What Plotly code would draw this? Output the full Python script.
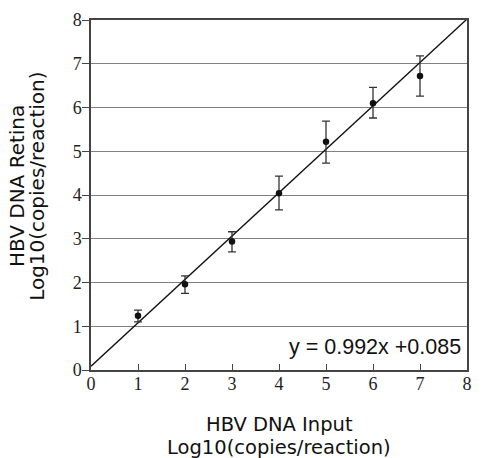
import plotly.graph_objects as go

x_input = [1, 2, 3, 4, 5, 6, 7]
y_retina = [1.24, 1.96, 2.94, 4.04, 5.22, 6.10, 6.72]
err_plus = [0.13, 0.19, 0.22, 0.39, 0.47, 0.36, 0.46]
err_minus = [0.14, 0.21, 0.24, 0.38, 0.49, 0.34, 0.46]
slope = 0.992
intercept = 0.085
fit_x = [0, 8]
fit_y = [slope * v + intercept for v in fit_x]
tick_vals = [0, 1, 2, 3, 4, 5, 6, 7, 8]

SERIF = "Liberation Serif, Times New Roman, serif"
SANS = "DejaVu Sans, Verdana, sans-serif"
ARIAL = "Liberation Sans, Arial, sans-serif"

fig = go.Figure()
fig.add_trace(go.Scatter(x=fit_x, y=fit_y, mode="lines",
                         line=dict(color="#111111", width=1.4), showlegend=False, cliponaxis=False))
fig.add_trace(go.Scatter(
    x=x_input, y=y_retina, mode="markers",
    marker=dict(color="#111111", size=6.5),
    error_y=dict(type="data", symmetric=False, array=err_plus, arrayminus=err_minus,
                 color="#333333", thickness=1.3, width=4),
    showlegend=False, cliponaxis=False))

fig.update_layout(
    width=482, height=458,
    margin=dict(l=91, r=10, t=13, b=88),
    paper_bgcolor="white", plot_bgcolor="white",
    font=dict(family=SANS),
    xaxis=dict(range=[0, 8], tickvals=tick_vals, ticks="inside", ticklen=6, tickwidth=1.3,
               tickcolor="#444444", showline=True, linecolor="#444444", linewidth=1.5,
               mirror=True, showgrid=False, zeroline=False, ticklabelstandoff=-3,
               tickfont=dict(family=SERIF, size=18, color="#222222")),
    yaxis=dict(range=[0, 8], tickvals=tick_vals, ticks="outside", ticklen=7, tickwidth=1.3,
               tickcolor="#444444", showline=True, linecolor="#444444", linewidth=1.5,
               mirror=True, showgrid=True, gridcolor="#808080", gridwidth=1, zeroline=False,
               ticklabelstandoff=-3,
               tickfont=dict(family=SERIF, size=18, color="#222222")),
    annotations=[
        dict(text="y = 0.992x +0.085", xref="x", yref="y", x=7.92, y=0.52, xanchor="right",
             yanchor="middle", showarrow=False,
             font=dict(family=ARIAL, size=21.5, color="#111111")),
        dict(text="HBV DNA Input", xref="paper", yref="paper", x=0.5, y=-0.157,
             xanchor="center", yanchor="middle", showarrow=False,
             font=dict(family=SANS, size=19.5, color="#111111")),
        dict(text="Log10(copies/reaction)", xref="paper", yref="paper", x=0.5, y=-0.221,
             xanchor="center", yanchor="middle", showarrow=False,
             font=dict(family=SANS, size=19.5, color="#111111")),
        dict(text="HBV DNA Retina", xref="paper", yref="paper", x=-0.195, y=0.525,
             xanchor="center", yanchor="middle", textangle=-90, showarrow=False,
             font=dict(family=SANS, size=20, color="#111111")),
        dict(text="Log10(copies/reaction)", xref="paper", yref="paper", x=-0.142, y=0.525,
             xanchor="center", yanchor="middle", textangle=-90, showarrow=False,
             font=dict(family=SANS, size=20, color="#111111")),
    ],
)

fig.write_html("out.html")
